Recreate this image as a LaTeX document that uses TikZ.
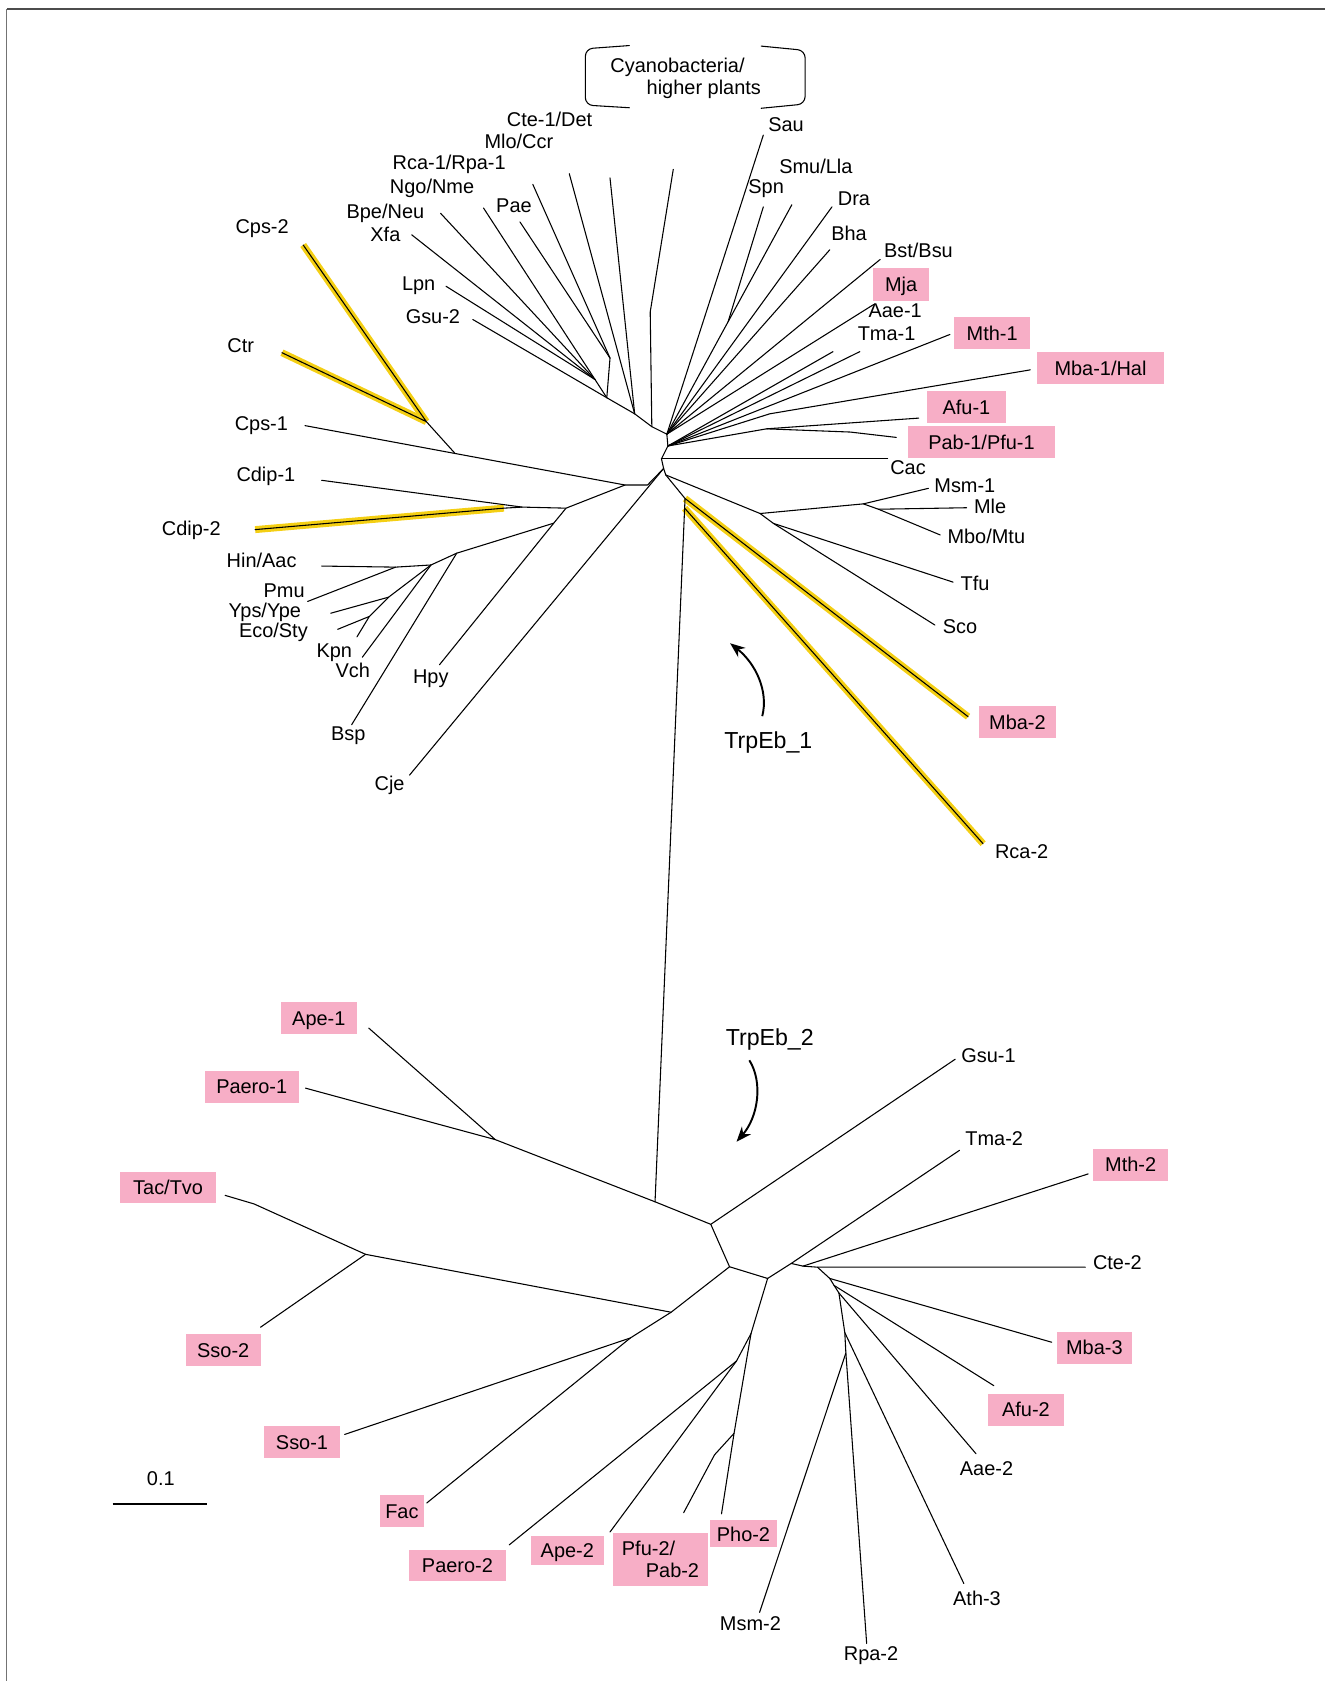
\documentclass[tikz,border=0pt]{standalone}
\usepackage{fontspec}
\setmainfont{Liberation Sans}
\usetikzlibrary{positioning,arrows.meta}
\definecolor{pinkfill}{RGB}{247,174,198}
\definecolor{hiyellow}{RGB}{244,207,20}
\tikzset{
  branch/.style={line width=1pt, line join=round, line cap=round},
  hilite/.style={line width=6.5pt, draw=hiyellow},
  labfont/.style={font=\fontsize{18.6}{22}\selectfont, inner sep=0pt},
  lab/.style={labfont, text height=13.4pt, text depth=0pt},
  pinkbox/.style={lab, fill=pinkfill, minimum width=70pt, minimum height=30pt},
  biglab/.style={font=\fontsize{21.6}{26}\selectfont, inner sep=0pt, text height=15.5pt, text depth=0pt},
  trparrow/.style={line width=1.8pt, -{Stealth[length=14pt,width=11pt]}},
}
\begin{document}
\begin{tikzpicture}[x=1pt, y=-1pt]
\useasboundingbox (0,0) rectangle (1236,1568);
\draw[line width=1.6pt, black!70] (6.3,8.7) -- (1236,8.7);
\draw[line width=0.8pt, black!55] (6.3,8.7) -- (6.3,1568);

\draw[branch, rounded corners=7pt] (587,42.5) -- (546,45.5) -- (546,98) -- (587,100.5);
\draw[branch, rounded corners=7pt] (710,43) -- (751,47) -- (751,97) -- (710,101);
\node[lab] (cyano1) at (632,60.7) {Cyanobacteria/};
\node[lab] (cyano2) at (656.5,81.5) {higher plants};

% upper tree
\coordinate (h1) at (622,405);
\coordinate (h2) at (623,416);
\coordinate (h3) at (617,428);
\coordinate (h4) at (619,437);
\coordinate (h5) at (621,443);
\coordinate (h6) at (639,465);
\coordinate (h7) at (638.6,474);

\coordinate (pe) at (608,398);
\coordinate (pd) at (592,386);
\coordinate (pa) at (566,371);
\coordinate (pb) at (555,354);
\coordinate (pc) at (569,334);
\coordinate (cyk) at (606.5,291);
\coordinate (cyt) at (628,158);
\coordinate (cte1e) at (569,166);
\coordinate (mloe) at (531,162);
\coordinate (rca1e) at (497,172);
\coordinate (paee) at (485,207);
\coordinate (ngoe) at (451,194);
\coordinate (bpee) at (411,199);
\coordinate (xfae) at (384,219);
\coordinate (lpne) at (416,267);
\coordinate (gsu2e) at (441,298);

\coordinate (saue) at (712,126);
\coordinate (spne) at (712,193);
\coordinate (spj) at (679.2,300);
\coordinate (smue) at (738.6,191);
\coordinate (drae) at (776,193);
\coordinate (bhae) at (774,233);
\coordinate (bste) at (821,242);
\coordinate (mjae) at (815,284);
\coordinate (aae1e) at (777,328);
\coordinate (tma1e) at (802,328);
\coordinate (mth1e) at (886,312);
\coordinate (mba1e) at (961,345);
\coordinate (mba1k) at (718,386);
\coordinate (afu1e) at (857,390);
\coordinate (afuj) at (715,400);
\coordinate (pab1e) at (836,408);
\coordinate (pab1k) at (793,403);
\coordinate (cace) at (828,428);

\coordinate (s1) at (709,479);
\coordinate (s2) at (721.4,488.2);
\coordinate (scoe) at (872,583);
\coordinate (tfue) at (889,543);
\coordinate (m1) at (805.3,470);
\coordinate (m2) at (819.4,475);
\coordinate (msm1e) at (866,455.5);
\coordinate (mlee) at (901.7,473.6);
\coordinate (mboe) at (877,499);
\coordinate (mba2e) at (903,668.5);
\coordinate (rca2e) at (917,787);

\coordinate (cps2e) at (282.8,228.5);
\coordinate (ctre) at (263,329);
\coordinate (c1) at (397.7,393.3);
\coordinate (c2) at (424.5,423);
\coordinate (cps1e) at (284.5,397);
\coordinate (l1) at (583,452.4);
\coordinate (l2) at (604,452.4);
\coordinate (cd1) at (528,474);
\coordinate (cd2) at (487,473);
\coordinate (cd3) at (470,474);
\coordinate (cdip1e) at (300,448);
\coordinate (cdip2e) at (238,494);

\coordinate (e0) at (516.5,488);
\coordinate (hpye) at (410,620);
\coordinate (e1) at (426,516);
\coordinate (bspe) at (328,676);
\coordinate (e2) at (402,527);
\coordinate (e3) at (369,529);
\coordinate (hine) at (300,528);
\coordinate (pmue) at (287,561);
\coordinate (vche) at (338,613);
\coordinate (e4) at (362.5,557);
\coordinate (ypse) at (308.5,572);
\coordinate (e5) at (344.5,575);
\coordinate (ecoe) at (315,587);
\coordinate (kpne) at (333,594);
\coordinate (cjee) at (382,723);

% lower tree
\coordinate (b0) at (611,1121);
\coordinate (b1) at (462,1063);
\coordinate (b2) at (663,1142);
\coordinate (b3) at (680.5,1181.6);
\coordinate (b4) at (716,1192.5);
\coordinate (b5) at (626,1224);
\coordinate (b6) at (341,1170);
\coordinate (b7) at (588,1248);
\coordinate (b8) at (738,1178.5);
\coordinate (b9) at (749,1181);
\coordinate (b10) at (762.5,1182);
\coordinate (b11) at (774,1192.5);
\coordinate (b12) at (778,1199);
\coordinate (b13) at (782.5,1206);
\coordinate (b14) at (788,1243);
\coordinate (b15) at (687,1269.5);
\coordinate (b16) at (700.5,1244);
\coordinate (b17) at (684.7,1337);
\coordinate (b18) at (666.5,1357);
\coordinate (b19) at (789,1262);

\coordinate (ape1e) at (344,959);
\coordinate (paero1e) at (285,1015);
\coordinate (tack) at (237,1123);
\coordinate (tace) at (210,1115);
\coordinate (sso2e) at (243,1238);
\coordinate (sso1e) at (321.5,1338);
\coordinate (face) at (398,1402);
\coordinate (paero2e) at (475,1441);
\coordinate (ape2e) at (569,1429);
\coordinate (pfu2e) at (637.7,1411);
\coordinate (pho2e) at (673,1412);
\coordinate (msm2e) at (708.5,1504);
\coordinate (rpa2e) at (808.4,1533);
\coordinate (ath3e) at (899,1477);
\coordinate (aae2e) at (910.4,1356);
\coordinate (afu2e) at (927,1292.5);
\coordinate (mba3e) at (981,1252);
\coordinate (cte2e) at (1012.4,1182);
\coordinate (mth2e) at (1015,1095);
\coordinate (tma2e) at (895,1073);
\coordinate (gsu1e) at (891,988);

\draw[hilite] (cps2e) -- (c1);
\draw[hilite] (ctre) -- (c1);
\draw[hilite] (cdip2e) -- (cd3);
\draw[hilite] (h6) -- (mba2e);
\draw[hilite] (h7) -- (rca2e);

\draw[branch] (h1) -- (h2) -- (h3) -- (h4) -- (h5) -- (h6) -- (h7) -- (b0);
\draw[branch] (cyt) -- (cyk) -- (pe) -- (h1);
\draw[branch] (pe) -- (pd) -- (pa) -- (pb);
\draw[branch] (cte1e) -- (pd);
\draw[branch] (mloe) -- (pd);
\draw[branch] (rca1e) -- (pc) -- (pa);
\draw[branch] (paee) -- (pc);
\draw[branch] (gsu2e) -- (pa);
\draw[branch] (lpne) -- (pb);
\draw[branch] (xfae) -- (pb);
\draw[branch] (bpee) -- (pb);
\draw[branch] (ngoe) -- (pb);

\draw[branch] (saue) -- (h1);
\draw[branch] (spne) -- (spj);
\draw[branch] (smue) -- (h1);
\draw[branch] (drae) -- (h1);
\draw[branch] (bhae) -- (h1);
\draw[branch] (bste) -- (h1);
\draw[branch] (mjae) -- (h1);
\draw[branch] (aae1e) -- (h2);
\draw[branch] (tma1e) -- (h2);
\draw[branch] (mth1e) -- (h2);
\draw[branch] (mba1e) -- (mba1k) -- (h2);
\draw[branch] (afu1e) -- (afuj) -- (h2);
\draw[branch] (pab1e) -- (pab1k) -- (afuj);
\draw[branch] (cace) -- (h3);

\draw[branch] (h5) -- (s1) -- (s2) -- (scoe);
\draw[branch] (s1) -- (m1) -- (msm1e);
\draw[branch] (m1) -- (m2) -- (mboe);
\draw[branch] (m2) -- (mlee);
\draw[branch] (s2) -- (tfue);
\draw[branch] (h6) -- (mba2e);
\draw[branch] (h7) -- (rca2e);

\draw[branch] (cps2e) -- (c1) -- (ctre);
\draw[branch] (c1) -- (c2) -- (l1) -- (l2) -- (h4);
\draw[branch] (cps1e) -- (c2);
\draw[branch] (cdip1e) -- (cd2) -- (cd1) -- (l1);
\draw[branch] (cdip2e) -- (cd3) -- (cd2);
\draw[branch] (cd1) -- (e0) -- (hpye);
\draw[branch] (e0) -- (e1) -- (bspe);
\draw[branch] (e1) -- (e2) -- (e3) -- (hine);
\draw[branch] (e3) -- (pmue);
\draw[branch] (e2) -- (vche);
\draw[branch] (e2) -- (e4) -- (ypse);
\draw[branch] (e4) -- (e5) -- (ecoe);
\draw[branch] (e5) -- (kpne);
\draw[branch] (h4) -- (cjee);

\draw[branch] (ape1e) -- (b1) -- (paero1e);
\draw[branch] (b1) -- (b0) -- (b2) -- (gsu1e);
\draw[branch] (b2) -- (b3) -- (b4);
\draw[branch] (b3) -- (b5) -- (b6) -- (tack) -- (tace);
\draw[branch] (b6) -- (sso2e);
\draw[branch] (b5) -- (b7) -- (sso1e);
\draw[branch] (b7) -- (face);
\draw[branch] (b4) -- (b8) -- (tma2e);
\draw[branch] (b8) -- (b9) -- (mth2e);
\draw[branch] (b9) -- (b10) -- (cte2e);
\draw[branch] (b10) -- (b11) -- (mba3e);
\draw[branch] (b11) -- (b12) -- (afu2e);
\draw[branch] (b12) -- (b13) -- (aae2e);
\draw[branch] (b13) -- (b14) -- (ath3e);
\draw[branch] (b14) -- (b19) -- (rpa2e);
\draw[branch] (b19) -- (msm2e);
\draw[branch] (b4) -- (b16) -- (b15) -- (paero2e);
\draw[branch] (b15) -- (ape2e);
\draw[branch] (b16) -- (b17) -- (pho2e);
\draw[branch] (b17) -- (b18) -- (pfu2e);

\node[lab] (cte1) at (512.6,111.3) {Cte-1/Det};
\node[lab] (mlo) at (484,132) {Mlo/Ccr};
\node[lab] (rca1) at (419,151) {Rca-1/Rpa-1};
\node[lab] (ngo) at (403,174) {Ngo/Nme};
\node[lab] (bpe) at (359.5,197.5) {Bpe/Neu};
\node[lab] (xfa) at (359.5,219) {Xfa};
\node[lab] (pae) at (479.4,191.2) {Pae};
\node[lab] (lpn) at (390.5,264.3) {Lpn};
\node[lab] (gsu2) at (403.8,294.8) {Gsu-2};
\node[lab] (cps2) at (244.5,210.8) {Cps-2};
\node[lab] (ctr) at (224.5,321.8) {Ctr};
\node[lab] (cps1) at (243.8,394.9) {Cps-1};
\node[lab] (cdip1) at (248,442.5) {Cdip-1};
\node[lab] (cdip2) at (178.5,492.9) {Cdip-2};
\node[lab] (hin) at (244,522.4) {Hin/Aac};
\node[lab] (pmu) at (265,550.4) {Pmu};
\node[lab] (yps) at (247,569) {Yps/Ype};
\node[lab] (eco) at (255,588.3) {Eco/Sty};
\node[lab] (kpn) at (311.8,607) {Kpn};
\node[lab] (vch) at (329,625.6) {Vch};
\node[lab] (hpy) at (401.8,631.2) {Hpy};
\node[lab] (bsp) at (324.8,684) {Bsp};
\node[lab] (cje) at (363.4,730.7) {Cje};

\node[lab] (sau) at (733.2,116) {Sau};
\node[lab] (smu) at (761,155) {Smu/Lla};
\node[lab] (spn) at (714.6,174) {Spn};
\node[lab] (dra) at (796.6,185) {Dra};
\node[lab] (bha) at (792,217.6) {Bha};
\node[lab] (bst) at (856.7,233.8) {Bst/Bsu};
\node[pinkbox, minimum width=53pt] (mja) at (840.5,265.3) {Mja};
\node[lab] (aae1) at (835,289) {Aae-1};
\node[lab] (tma1) at (827,311) {Tma-1};
\node[pinkbox, minimum width=71pt] (mth1) at (925.5,311) {Mth-1};
\node[pinkbox, minimum width=119pt] (mba1) at (1026.5,343.5) {Mba-1/Hal};
\node[pinkbox, minimum width=73pt] (afu1) at (901.5,379.7) {Afu-1};
\node[pinkbox, minimum width=137pt] (pab1) at (915.5,412.5) {Pab-1/Pfu-1};
\node[lab] (cac) at (847,436) {Cac};
\node[lab] (msm1) at (900,452.6) {Msm-1};
\node[lab] (mle) at (923.5,472.7) {Mle};
\node[lab] (mbo) at (920,500) {Mbo/Mtu};
\node[lab] (tfu) at (909.5,544) {Tfu};
\node[lab] (sco) at (895.5,584.6) {Sco};
\node[pinkbox, minimum width=71.5pt] (mba2) at (949,673.8) {Mba-2};
\node[lab] (rca2) at (953,794.5) {Rca-2};

\node[biglab] (trp1) at (716.7,690.3) {TrpEb\_1};
\coordinate (a1s) at (711,668);
\coordinate (a1e) at (681,600);
\draw[trparrow] (a1s) .. controls (717,645) and (705,619) .. (a1e);

\node[biglab] (trp2) at (718,967) {TrpEb\_2};
\coordinate (a2s) at (699,989);
\coordinate (a2e) at (687,1065);
\draw[trparrow] (a2s) .. controls (712,1010) and (707,1042) .. (a2e);

\node[pinkbox, minimum width=70.7pt] (ape1) at (297.4,949.5) {Ape-1};
\node[pinkbox, minimum width=87.6pt] (paero1) at (234.8,1013.6) {Paero-1};
\node[pinkbox, minimum width=89.5pt, minimum height=28.3pt] (tac) at (156.8,1107.8) {Tac/Tvo};
\node[pinkbox] (sso2) at (208.2,1259.4) {Sso-2};
\node[pinkbox] (sso1) at (281.7,1345.3) {Sso-1};
\node[pinkbox, minimum width=40.8pt, minimum height=29.5pt] (fac) at (374.9,1409.4) {Fac};
\node[pinkbox, minimum width=90.4pt, minimum height=28.6pt] (paero2) at (426.7,1460.2) {Paero-2};
\node[pinkbox, minimum width=68.7pt, minimum height=27.1pt] (ape2) at (529.2,1446.4) {Ape-2};
\node[labfont, fill=pinkfill, minimum width=88.6pt, minimum height=49.8pt, align=left] (pfu2) at (616.1,1454.6) {Pfu-2/\\[-2pt]\hspace*{1.2em}Pab-2};
\node[pinkbox, minimum width=61.6pt, minimum height=25.5pt] (pho2) at (693.5,1430.7) {Pho-2};
\node[lab] (msm2) at (700,1514.3) {Msm-2};
\node[lab] (rpa2) at (812.5,1542.3) {Rpa-2};
\node[lab] (ath3) at (911.3,1491) {Ath-3};
\node[lab] (aae2) at (920.2,1369.7) {Aae-2};
\node[pinkbox] (afu2) at (957,1315) {Afu-2};
\node[pinkbox, minimum width=70.3pt] (mba3) at (1020.8,1257) {Mba-3};
\node[lab] (cte2) at (1042.3,1177.5) {Cte-2};
\node[pinkbox, minimum width=70.3pt] (mth2) at (1054.7,1086.3) {Mth-2};
\node[lab] (tma2) at (927.4,1062) {Tma-2};
\node[lab] (gsu1) at (922,984) {Gsu-1};

\coordinate (sbl) at (105,1403);
\coordinate (sbr) at (193,1403);
\draw[line width=2pt] (sbl) -- (sbr);
\node[lab] (sblab) at (150,1379) {0.1};
\end{tikzpicture}
\end{document}
